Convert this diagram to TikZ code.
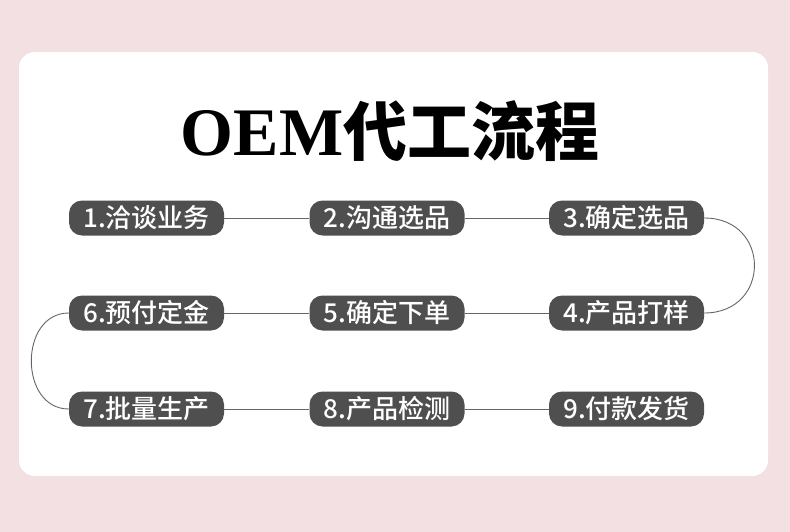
\documentclass[tikz,border=0pt]{standalone}
\usepackage{fontspec}
\usepackage{xcolor}
\usepackage{tikz}
\newfontfamily\cjk{Noto Sans CJK SC}
\newfontfamily\cjkmed{Noto Sans CJK SC Medium}
\newfontfamily\oemfont{Liberation Serif}
\definecolor{bgpink}{HTML}{F3E0E2}
\definecolor{pillgray}{HTML}{4F4F4F}
\definecolor{linegray}{HTML}{666666}

\begin{document}
\begin{tikzpicture}[x=1pt,y=-1pt,
  stepbox/.style={fill=pillgray,rounded corners=13pt,minimum width=155pt,
               minimum height=35pt,inner sep=0pt,text=white,
               font=\cjkmed\fontsize{26}{26}\selectfont},
  link/.style={draw=linegray,line width=0.9pt}]

  \fill[bgpink] (0,0) rectangle (790,532);
  \fill[white,rounded corners=16pt] (19,52) rectangle (768,476);

  \node (title) at (390,131)
    {{\oemfont\bfseries\fontsize{68}{68}\selectfont OEM}{\cjk\bfseries\fontsize{64}{64}\selectfont 代工流程}};

  % Row one
  \node[stepbox] (s1) at (146.5,218) {1.洽谈业务};
  \node[stepbox] (s2) at (387,218)   {2.沟通选品};
  \node[stepbox] (s3) at (626.5,218) {3.确定选品};
  % Row two
  \node[stepbox] (s6) at (146.5,313) {6.预付定金};
  \node[stepbox] (s5) at (387,313)   {5.确定下单};
  \node[stepbox] (s4) at (626.5,313) {4.产品打样};
  % Row three
  \node[stepbox] (s7) at (146.5,409) {7.批量生产};
  \node[stepbox] (s8) at (387,409)   {8.产品检测};
  \node[stepbox] (s9) at (626.5,409) {9.付款发货};

  % Connectors
  \draw[link] (s1.east)--(s2.west);
  \draw[link] (s2.east)--(s3.west);
  \draw[link] (s3.east) .. controls +(67,0) and +(67,0) .. (s4.east);
  \draw[link] (s4.west)--(s5.east);
  \draw[link] (s5.west)--(s6.east);
  \draw[link] (s6.west) .. controls +(-50,0) and +(-50,0) .. (s7.west);
  \draw[link] (s7.east)--(s8.west);
  \draw[link] (s8.east)--(s9.west);
\end{tikzpicture}
\end{document}
